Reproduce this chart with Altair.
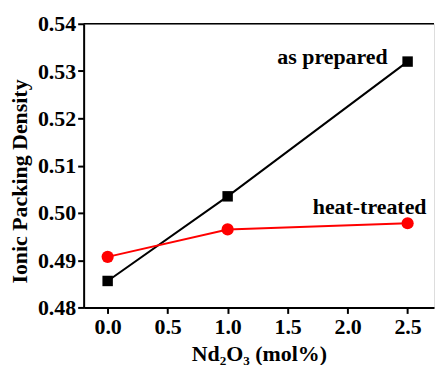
import altair as alt
import pandas as pd

x_vals = [0.0, 1.0, 2.5]
as_prepared = [0.4856, 0.5035, 0.5320]
heat_treated = [0.4907, 0.4965, 0.4978]
series_names = ["as prepared", "heat-treated"]
x_ticks = [0.0, 0.5, 1.0, 1.5, 2.0, 2.5]
y_ticks = [0.48, 0.49, 0.50, 0.51, 0.52, 0.53, 0.54]

rows = []
for s, vals in zip(series_names, [as_prepared, heat_treated]):
    for x, y in zip(x_vals, vals):
        rows.append({"x": x, "y": y, "series": s})
df = pd.DataFrame(rows)

FONT = "Liberation Serif"
xs = alt.Scale(domain=[-0.2, 2.72], nice=False, zero=False)
ys = alt.Scale(domain=[0.48, 0.54], nice=False, zero=False)

xenc = alt.X("x:Q", scale=xs, axis=alt.Axis(
    values=x_ticks, format=".1f", title="Nd₂O₃ (mol%)", grid=False,
    domainColor="black", domainWidth=2, tickColor="black", tickWidth=2, tickSize=6,
    labelFont=FONT, labelFontSize=22, labelFontWeight="bold", labelColor="black",
    labelPadding=3, titleFont=FONT, titleFontSize=22, titleFontWeight="bold",
    titleColor="black", titlePadding=6))
yenc = alt.Y("y:Q", scale=ys, axis=alt.Axis(
    values=y_ticks, format=".2f", title="Ionic Packing Density", grid=False,
    domainColor="black", domainWidth=2, tickColor="black", tickWidth=2, tickSize=6,
    labelFont=FONT, labelFontSize=22, labelFontWeight="bold", labelColor="black",
    labelPadding=2, titleFont=FONT, titleFontSize=22, titleFontWeight="bold",
    titleColor="black", titlePadding=6, titleY=158))

color = alt.Color("series:N", scale=alt.Scale(domain=series_names, range=["black", "#ff0000"]), legend=None)

base = alt.Chart(df)
lines = base.mark_line(strokeWidth=2).encode(x=xenc, y=yenc, color=color)
squares = base.transform_filter(alt.datum.series == "as prepared").mark_point(
    shape="square", filled=True, size=110, opacity=1, color="black").encode(x="x:Q", y="y:Q")
circles = base.transform_filter(alt.datum.series == "heat-treated").mark_point(
    shape="circle", filled=True, size=150, opacity=1, color="#ff0000").encode(x="x:Q", y="y:Q")

lab_prep = base.transform_filter((alt.datum.series == "as prepared") & (alt.datum.x == 2.5)).mark_text(
    align="right", baseline="middle", dx=-20, dy=-5, font=FONT, fontSize=22, fontWeight="bold", color="black"
).encode(x="x:Q", y="y:Q", text="series:N")
lab_heat = base.transform_filter((alt.datum.series == "heat-treated") & (alt.datum.x == 2.5)).mark_text(
    align="right", baseline="middle", dx=19, dy=-16, font=FONT, fontSize=22, fontWeight="bold", color="black"
).encode(x="x:Q", y="y:Q", text="series:N")

top = alt.Chart(pd.DataFrame({"a": [0]})).mark_rule(color="black", strokeWidth=1.5).encode(
    x=alt.value(0), x2=alt.value(352), y=alt.value(0))

chart = alt.layer(lines, squares, circles, lab_prep, lab_heat, top).properties(
    width=352, height=285, padding={"left": 0, "top": 4, "right": 0, "bottom": 0}
).configure_view(stroke=None).configure(background="white")

chart.save("out.html", embed_options={"renderer": "svg", "actions": False})
